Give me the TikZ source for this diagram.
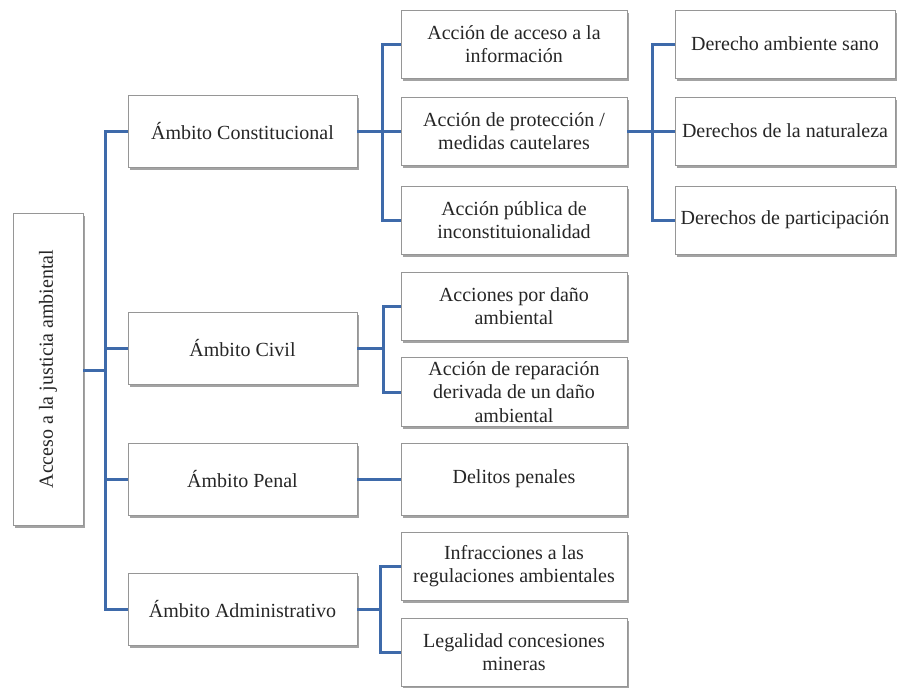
\documentclass[tikz,border=0pt]{standalone}
\usepackage{fontspec}
\setmainfont{Liberation Serif}
\usetikzlibrary{shadows}
\definecolor{connblue}{RGB}{62,106,170}
\definecolor{boxline}{RGB}{150,150,150}
\tikzset{
  box/.style={draw=boxline, line width=0.8pt, fill=white, align=center,
    font=\fontsize{20pt}{23.5pt}\selectfont, text=black!85, inner sep=2pt,
    drop shadow={shadow xshift=1.5pt, shadow yshift=-2.5pt, fill=black!45, opacity=0.8}},
  lvlone/.style={box, minimum width=229pt, minimum height=72pt},
  lvltwo/.style={box, minimum width=226pt, minimum height=68pt},
  lvlthree/.style={box, minimum width=220pt, minimum height=68pt},
  conn/.style={draw=connblue, line width=3pt}
}
\begin{document}
\begin{tikzpicture}[x=1pt,y=-1pt]
\useasboundingbox (0,0) rectangle (897,688);
% root
\node[box, minimum width=312pt, minimum height=70pt, rotate=90] (root) at (48,369) {Acceso a la justicia ambiental};
% level 1
\node[lvlone] (c1) at (242.5,131) {Ámbito Constitucional};
\node[lvlone] (c2) at (242.5,348) {Ámbito Civil};
\node[lvlone] (c3) at (242.5,479) {Ámbito Penal};
\node[lvlone] (c4) at (242.5,609) {Ámbito Administrativo};
% level 2
\node[lvltwo] (a1) at (514,44) {Acción de acceso a la\\información};
\node[lvltwo] (a2) at (514,131) {Acción de protección /\\medidas cautelares};
\node[lvltwo] (a3) at (514,220) {Acción pública de\\inconstituionalidad};
\node[lvltwo] (v1) at (514,306) {Acciones por daño\\ambiental};
\node[lvltwo, minimum height=69pt] (v2) at (514,392) {Acción de reparación\\derivada de un daño\\ambiental};
\node[lvltwo, minimum height=72pt] (p1) at (514,479) {Delitos penales};
\node[lvltwo] (m1) at (514,566) {Infracciones a las\\regulaciones ambientales};
\node[lvltwo] (m2) at (514,652) {Legalidad concesiones\\mineras};
% level 3
\node[lvlthree] (d1) at (785,44) {Derecho ambiente sano};
\node[lvlthree] (d2) at (785,131) {Derechos de la naturaleza};
\node[lvlthree] (d3) at (785,220) {Derechos de participación};
% bus coordinates
\coordinate (t) at (105,370);
\coordinate (bc) at (382,131);
\coordinate (bv) at (383,348);
\coordinate (bm) at (380,609);
\coordinate (bd) at (652,131);
% connectors
\draw[conn] (root.south |- t) -- (t);
\draw[conn] (c1.west) -| (t);
\draw[conn] (c2.west) -| (t);
\draw[conn] (c3.west) -| (t);
\draw[conn] (c4.west) -| (t);
\draw[conn] (c1.east) -- (bc);
\draw[conn] (a1.west) -| (bc);
\draw[conn] (a2.west) -- (bc);
\draw[conn] (a3.west) -| (bc);
\draw[conn] (c2.east) -- (bv);
\draw[conn] (v1.west) -| (bv);
\draw[conn] (v2.west) -| (bv);
\draw[conn] (c3.east) -- (p1.west);
\draw[conn] (c4.east) -- (bm);
\draw[conn] (m1.west) -| (bm);
\draw[conn] (m2.west) -| (bm);
\draw[conn] (a2.east) -- (bd);
\draw[conn] (d1.west) -| (bd);
\draw[conn] (d2.west) -- (bd);
\draw[conn] (d3.west) -| (bd);
\end{tikzpicture}
\end{document}
